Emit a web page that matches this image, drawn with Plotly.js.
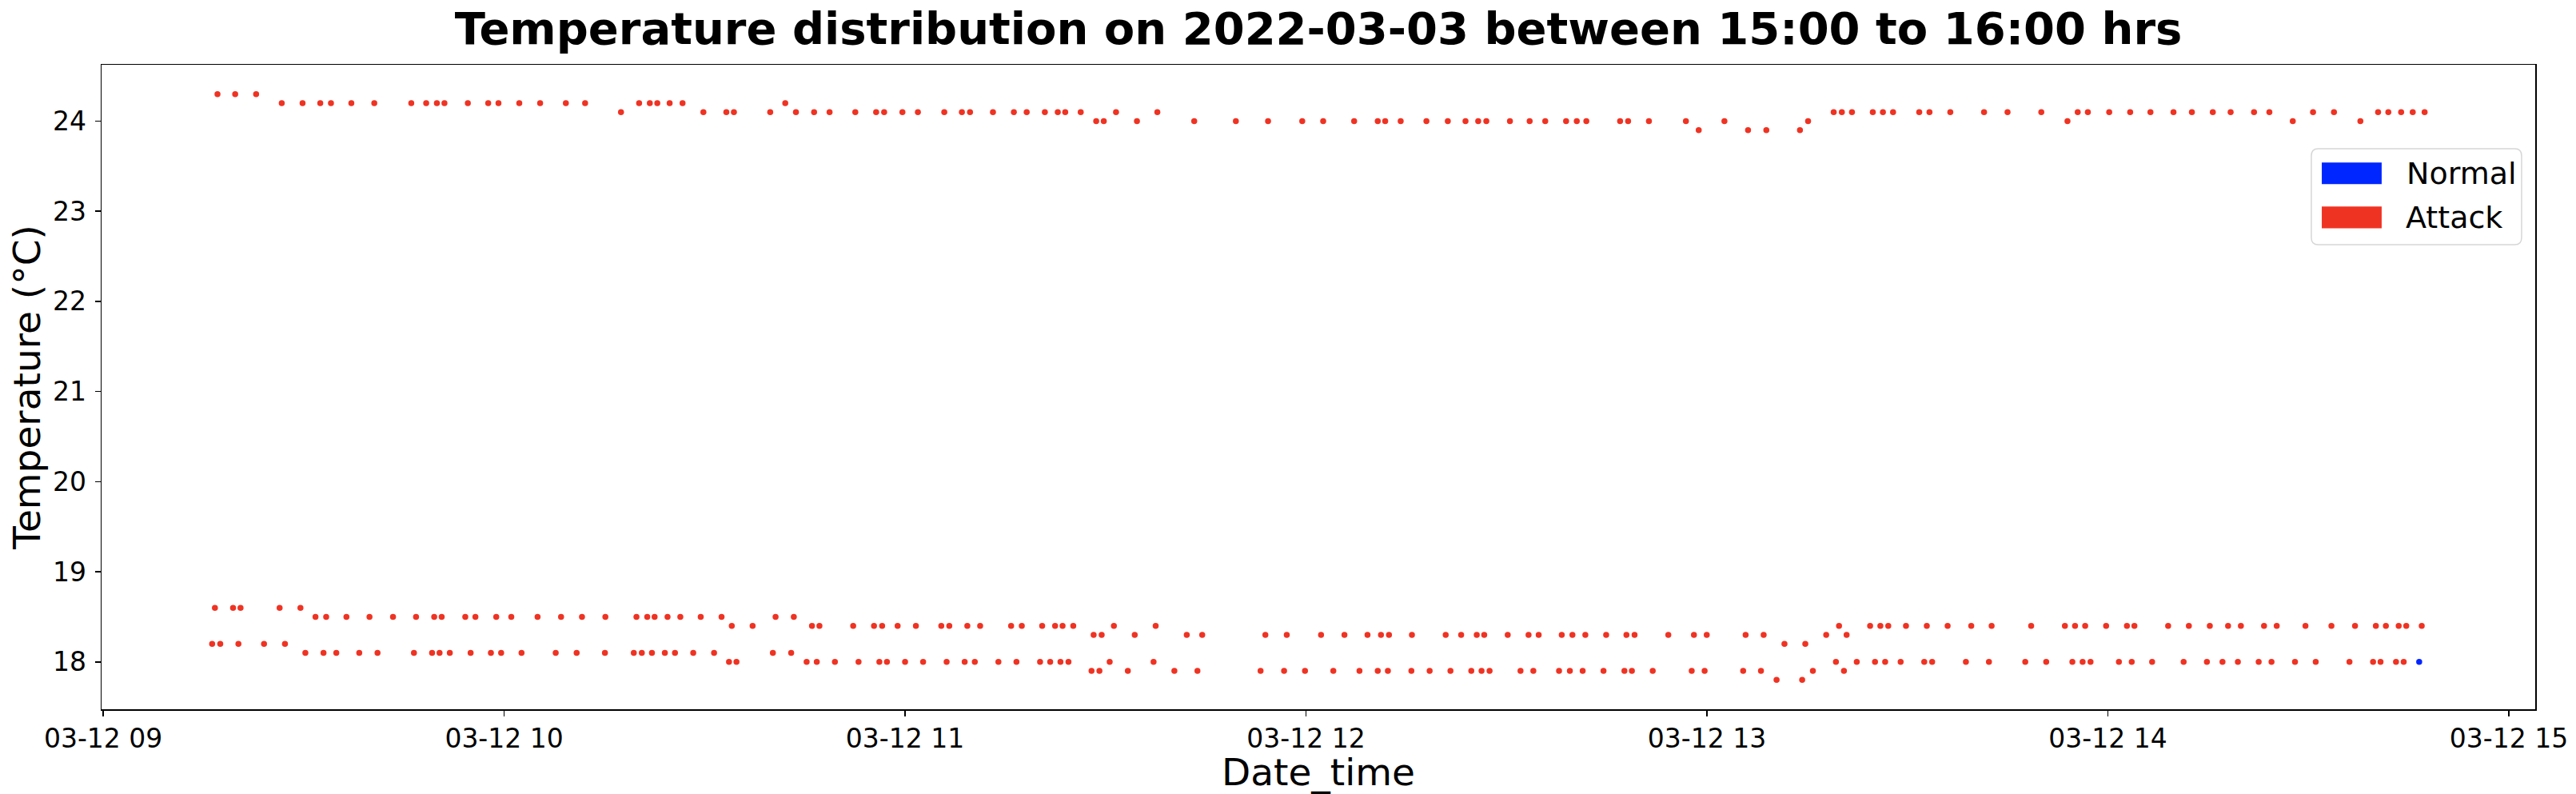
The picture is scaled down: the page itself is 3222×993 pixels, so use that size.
<!DOCTYPE html>
<html>
<head>
<meta charset="utf-8">
<script src="https://cdn.plot.ly/plotly-3.0.1.min.js"></script>
<style>html,body{margin:0;padding:0;background:#fff;}#chart{width:3222px;height:993px;}</style>
</head>
<body>
<div id="chart"></div>
<script>
// Reading times are given as minutes after 2022-03-12 09:00 (axis local time)
const baseDate = [2022, 2, 12, 9, 0, 0];

// Sensor band near 24 °C (Attack)
const topMinutes = [17.11,19.75,22.89,
26.72,29.84,32.49,34.09,37.14,40.57,46.11,48.34,49.94,51.07,54.58,57.63,59.15,62.27,65.39,69.24,72.12,
77.49,
80.21,81.81,82.93,84.78,86.70,
89.82,93.26,94.39,99.83,
102.07,
103.67,106.39,108.71,112.56,115.68,116.88,119.61,121.93,125.87,128.51,129.72,133.16,136.29,138.21,140.93,142.85,143.97,146.29,
148.61,149.74,151.58,154.70,157.75,
163.27,169.51,174.32,179.44,182.57,187.21,190.74,191.85,194.17,198.02,201.23,203.87,205.78,206.99,210.52,213.47,215.80,218.92,220.52,221.96,227.01,228.20,231.33,236.86,
238.78,242.62,246.15,248.89,253.93,255.14,
258.98,260.19,261.71,264.83,266.34,267.86,271.78,273.31,276.43,281.48,284.99,290.04,
293.96,
295.49,297.01,300.21,303.34,306.38,309.82,312.57,315.70,318.38,321.88,324.17,
327.68,
330.70,333.84,
337.79,
340.44,341.98,343.89,345.63,347.40];
const topTemps = [24.3,24.3,24.3,
24.2,24.2,24.2,24.2,24.2,24.2,24.2,24.2,24.2,24.2,24.2,24.2,24.2,24.2,24.2,24.2,24.2,
24.1,
24.2,24.2,24.2,24.2,24.2,
24.1,24.1,24.1,24.1,
24.2,
24.1,24.1,24.1,24.1,24.1,24.1,24.1,24.1,24.1,24.1,24.1,24.1,24.1,24.1,24.1,24.1,24.1,24.1,
24.0,24.0,24.1,24.0,24.1,
24.0,24.0,24.0,24.0,24.0,24.0,24.0,24.0,24.0,24.0,24.0,24.0,24.0,24.0,24.0,24.0,24.0,24.0,24.0,24.0,24.0,24.0,24.0,24.0,
23.9,24.0,23.9,23.9,23.9,24.0,
24.1,24.1,24.1,24.1,24.1,24.1,24.1,24.1,24.1,24.1,24.1,24.1,
24.0,
24.1,24.1,24.1,24.1,24.1,24.1,24.1,24.1,24.1,24.1,24.1,
24.0,
24.1,24.1,
24.0,
24.1,24.1,24.1,24.1,24.1];

// Sensor band near 18.4 °C (Attack)
const midMinutes = [16.72,19.44,20.55,26.40,29.52,
31.77,33.37,36.41,39.85,43.38,46.82,49.54,50.66,54.19,55.71,58.83,61.08,65.00,68.53,71.65,75.16,79.81,81.42,82.53,84.45,86.38,89.42,92.54,
94.07,97.19,
100.63,103.36,
106.07,107.19,112.24,115.36,116.57,118.89,121.62,125.43,126.63,129.32,131.24,135.88,137.48,140.53,142.46,143.57,145.17,
148.22,149.42,151.26,154.38,157.50,
162.15,164.47,173.92,177.12,182.25,185.76,189.21,191.22,192.42,195.86,200.90,203.22,205.55,206.67,210.19,213.31,214.83,218.28,219.88,221.80,224.93,227.96,229.17,234.22,238.06,239.98,245.79,248.49,
251.61,254.73,257.85,259.78,260.90,
264.42,265.95,267.14,269.79,272.91,276.03,279.56,282.61,288.53,293.57,295.09,296.61,299.74,302.86,303.98,309.03,312.13,315.26,317.99,319.90,323.37,325.27,329.57,333.46,336.99,340.10,341.61,343.52,344.65,346.98];
const midTemps = [18.6,18.6,18.6,18.6,18.6,
18.5,18.5,18.5,18.5,18.5,18.5,18.5,18.5,18.5,18.5,18.5,18.5,18.5,18.5,18.5,18.5,18.5,18.5,18.5,18.5,18.5,18.5,18.5,
18.4,18.4,
18.5,18.5,
18.4,18.4,18.4,18.4,18.4,18.4,18.4,18.4,18.4,18.4,18.4,18.4,18.4,18.4,18.4,18.4,18.4,
18.3,18.3,18.4,18.3,18.4,
18.3,18.3,18.3,18.3,18.3,18.3,18.3,18.3,18.3,18.3,18.3,18.3,18.3,18.3,18.3,18.3,18.3,18.3,18.3,18.3,18.3,18.3,18.3,18.3,18.3,18.3,18.3,18.3,
18.2,18.2,18.3,18.4,18.3,
18.4,18.4,18.4,18.4,18.4,18.4,18.4,18.4,18.4,18.4,18.4,18.4,18.4,18.4,18.4,18.4,18.4,18.4,18.4,18.4,18.4,18.4,18.4,18.4,18.4,18.4,18.4,18.4,18.4,18.4];

// Sensor band near 18.0 °C (Attack)
const lowMinutes = [16.31,17.52,20.24,24.08,27.20,
30.25,32.97,34.89,38.33,41.06,46.50,49.23,50.34,51.87,54.99,58.03,59.56,62.60,67.72,70.85,75.09,79.41,80.61,82.13,84.06,85.58,88.30,91.42,
93.66,94.78,
100.22,102.95,
105.27,106.79,109.51,113.04,116.16,117.29,120.00,122.70,126.22,128.92,130.44,133.97,136.68,140.21,141.73,143.25,144.45,
147.90,149.09,150.62,153.34,157.19,
160.31,163.75,173.20,176.72,179.85,184.09,188.01,190.74,192.26,195.77,198.50,201.62,204.74,206.27,207.47,212.11,214.03,217.88,219.49,221.40,224.53,227.65,228.77,231.89,237.73,239.65,245.42,248.09,
250.42,254.25,255.86,259.30,260.50,
262.42,265.15,266.67,268.99,272.52,273.71,278.76,282.20,287.64,290.77,294.69,296.22,297.41,301.65,303.58,306.62,311.34,314.83,317.15,319.46,322.58,324.49,328.00,331.10,336.16,339.69,340.81,343.12,344.27];
const lowTemps = [18.2,18.2,18.2,18.2,18.2,
18.1,18.1,18.1,18.1,18.1,18.1,18.1,18.1,18.1,18.1,18.1,18.1,18.1,18.1,18.1,18.1,18.1,18.1,18.1,18.1,18.1,18.1,18.1,
18.0,18.0,
18.1,18.1,
18.0,18.0,18.0,18.0,18.0,18.0,18.0,18.0,18.0,18.0,18.0,18.0,18.0,18.0,18.0,18.0,18.0,
17.9,17.9,18.0,17.9,18.0,
17.9,17.9,17.9,17.9,17.9,17.9,17.9,17.9,17.9,17.9,17.9,17.9,17.9,17.9,17.9,17.9,17.9,17.9,17.9,17.9,17.9,17.9,17.9,17.9,17.9,17.9,17.9,17.9,
17.8,17.8,17.9,18.0,17.9,
18.0,18.0,18.0,18.0,18.0,18.0,18.0,18.0,18.0,18.0,18.0,18.0,18.0,18.0,18.0,18.0,18.0,18.0,18.0,18.0,18.0,18.0,18.0,18.0,18.0,18.0,18.0,18.0,18.0];

// Normal reading
const normalMinutes = [346.59];
const normalTemps = [18.0];

const legendLabels = ['Normal', 'Attack'];
const colorNormal = '#0026ff';
const colorAttack = '#ef3323';

function toTime(m) {
  const ms = Date.UTC(baseDate[0], baseDate[1], baseDate[2], baseDate[3], baseDate[4], baseDate[5]) + Math.round(m * 60000);
  return new Date(ms).toISOString().replace('T', ' ').slice(0, 19);
}

const attackMinutes = topMinutes.concat(midMinutes, lowMinutes);
const attackTemps = topTemps.concat(midTemps, lowTemps);

// matplotlib-like 5% auto margins
const allM = attackMinutes.concat(normalMinutes);
const allT = attackTemps.concat(normalTemps);
const mMin = Math.min(...allM), mMax = Math.max(...allM);
const tMin = Math.min(...allT), tMax = Math.max(...allT);
const mPad = (mMax - mMin) * 0.05, tPad = (tMax - tMin) * 0.05;

const FONT = 'DejaVu Sans, Liberation Sans, sans-serif';

const traces = [
  {
    type: 'scatter', mode: 'markers', name: legendLabels[1],
    x: attackMinutes.map(toTime), y: attackTemps,
    marker: {color: colorAttack, size: 7.5, line: {width: 0}},
    showlegend: false, hoverinfo: 'x+y'
  },
  {
    type: 'scatter', mode: 'markers', name: legendLabels[0],
    x: normalMinutes.map(toTime), y: normalTemps,
    marker: {color: colorNormal, size: 7.5, line: {width: 0}},
    showlegend: false, hoverinfo: 'x+y'
  }
];

// legend box geometry (paper coords)
const bx0 = 0.9080, bx1 = 0.9944, by0 = 0.7208, by1 = 0.8697;
const rx = 0.0028, ry = 0.011;
const boxPath = `M ${bx0+rx},${by0} L ${bx1-rx},${by0} Q ${bx1},${by0} ${bx1},${by0+ry} L ${bx1},${by1-ry} Q ${bx1},${by1} ${bx1-rx},${by1} L ${bx0+rx},${by1} Q ${bx0},${by1} ${bx0},${by1-ry} L ${bx0},${by0+ry} Q ${bx0},${by0} ${bx0+rx},${by0} Z`;

const layout = {
  width: 3222, height: 993,
  margin: {l: 127, r: 51, t: 81, b: 106, pad: 0},
  paper_bgcolor: '#ffffff', plot_bgcolor: '#ffffff',
  font: {family: FONT, color: '#000'},
  title: {
    text: '<b>Temperature distribution on 2022-03-03 between 15:00 to 16:00 hrs</b>',
    font: {family: FONT, size: 56, color: '#000'},
    x: 0.5, xref: 'paper', xanchor: 'center',
    y: 0.964, yref: 'container', yanchor: 'middle'
  },
  xaxis: {
    type: 'date',
    range: [toTime(mMin - mPad), toTime(mMax + mPad)],
    tick0: '2022-03-12 09:00:00', dtick: 3600000,
    tickformat: '%m-%d %H',
    showline: true, mirror: true, linecolor: '#000', linewidth: 1.5,
    ticks: 'outside', ticklen: 7, tickwidth: 1.5, tickcolor: '#000',
    ticklabelstandoff: 0,
    tickfont: {family: FONT, size: 33, color: '#000'},
    showgrid: false, zeroline: false,
    title: {text: 'Date_time', font: {family: FONT, size: 47, color: '#000'}, standoff: 9}
  },
  yaxis: {
    range: [tMin - tPad, tMax + tPad],
    tick0: 18, dtick: 1,
    showline: true, mirror: true, linecolor: '#000', linewidth: 1.5,
    ticks: 'outside', ticklen: 7, tickwidth: 1.5, tickcolor: '#000',
    ticklabelstandoff: 4,
    tickfont: {family: FONT, size: 33, color: '#000'},
    showgrid: false, zeroline: false,
    title: {text: 'Temperature (°C)', font: {family: FONT, size: 47, color: '#000'}, standoff: 0}
  },
  showlegend: false,
  shapes: [
    {type: 'path', xref: 'paper', yref: 'paper', path: boxPath,
     fillcolor: 'rgba(255,255,255,0.85)', line: {color: '#d6d6d6', width: 1.5}, layer: 'above'},
    {type: 'rect', xref: 'paper', yref: 'paper', x0: 0.9123, x1: 0.9369, y0: 0.8148, y1: 0.8483,
     fillcolor: colorNormal, line: {width: 0}, layer: 'above'},
    {type: 'rect', xref: 'paper', yref: 'paper', x0: 0.9123, x1: 0.9369, y0: 0.7464, y1: 0.7800,
     fillcolor: colorAttack, line: {width: 0}, layer: 'above'}
  ],
  annotations: [
    {xref: 'paper', yref: 'paper', x: 0.9465, y: 0.8316, xanchor: 'left', yanchor: 'middle',
     text: legendLabels[0], showarrow: false, font: {family: FONT, size: 38, color: '#000'}},
    {xref: 'paper', yref: 'paper', x: 0.9460, y: 0.7634, xanchor: 'left', yanchor: 'middle',
     text: legendLabels[1], showarrow: false, font: {family: FONT, size: 38, color: '#000'}}
  ]
};

Plotly.newPlot('chart', traces, layout, {staticPlot: true, displayModeBar: false});
</script>
</body>
</html>
